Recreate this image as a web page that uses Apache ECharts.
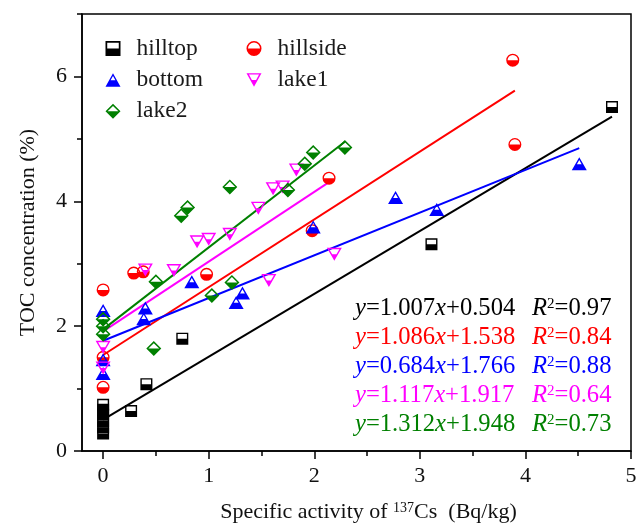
<!DOCTYPE html>
<html><head><meta charset="utf-8">
<script src="https://cdn.jsdelivr.net/npm/echarts@6/dist/echarts.min.js"></script>
<style>html,body{margin:0;padding:0;background:#fff}#c{width:640px;height:528px}</style>
</head><body><div id="c"></div>
<script>
// ---- data ----
const seriesNames = ['hilltop', 'hillside', 'bottom', 'lake1', 'lake2'];
const seriesColors = ['#000000', '#ff0000', '#0000ff', '#ff00ff', '#008000'];

const hilltopX = [0, 0, 0, 0, 0, 0, 0.265, 0.41, 0.75, 3.11, 4.82];
const hilltopY = [0.28, 0.38, 0.48, 0.58, 0.66, 0.74, 0.64, 1.07, 1.80, 3.31, 5.51];

const hillsideX = [0, 0, 0, 0.29, 0.38, 0.98, 1.98, 2.14, 3.88, 3.90];
const hillsideY = [2.58, 1.50, 1.02, 2.85, 2.87, 2.83, 3.53, 4.37, 6.26, 4.91];

const bottomX = [0, 0, 0, 0.40, 0.385, 0.84, 1.26, 1.32, 1.99, 2.77, 3.16, 4.51];
const bottomY = [2.25, 1.46, 1.24, 2.29, 2.12, 2.71, 2.38, 2.53, 3.59, 4.06, 3.87, 4.60];

const lake1X = [0, 0, 0.40, 0.67, 0.89, 1.00, 1.20, 1.47, 1.57, 1.61, 1.70, 1.83, 2.19];
const lake1Y = [1.66, 1.33, 2.90, 2.89, 3.35, 3.39, 3.47, 3.89, 2.73, 4.20, 4.23, 4.50, 3.15];

const lake2X = [0, 0, 0, 0.48, 0.50, 0.74, 0.80, 1.03, 1.20, 1.22, 1.75, 1.91, 1.99, 2.29];
const lake2Y = [2.11, 2.00, 1.87, 1.64, 2.71, 3.77, 3.90, 2.49, 4.23, 2.70, 4.18, 4.60, 4.78, 4.86];

// regression lines (slope, intercept as printed) and their x extents
const fitSlope = [1.007, 1.086, 0.684, 1.117, 1.312];
const fitIntercept = [0.504, 1.538, 1.766, 1.917, 1.948];
const fitR2 = ['0.97', '0.84', '0.88', '0.64', '0.73'];
const fitXStart = [0, 0, 0, 0, 0];
const fitXEnd = [4.82, 3.90, 4.51, 2.14, 2.29];

const xTicks = [0, 1, 2, 3, 4, 5];
const xMinorTicks = [0.5, 1.5, 2.5, 3.5, 4.5];
const yTicks = [0, 2, 4, 6];
const yMinorTicks = [1, 3, 5, 7];

// ---- rendering ----
const FONT = '"Liberation Serif", "Times New Roman", serif';
const xs = [hilltopX, hillsideX, bottomX, lake1X, lake2X];
const ys = [hilltopY, hillsideY, bottomY, lake1Y, lake2Y];

const symbols = [
  'path://M0 0H20V20H0Z M2.3 2.3V10H17.7V2.3Z',
  'path://M0 10A10 10 0 1 1 20 10A10 10 0 1 1 0 10Z M2 10H18A8 8 0 0 0 2 10Z',
  'path://M10 0L20 18H0Z M10 3.7L6.8 9.5H13.2Z',
  'path://M0 0H20L10 18Z M3.3 1.8L7.2 9H12.8L16.7 1.8Z',
  'path://M10 0L20 10L10 20L0 10Z M10 2.8L2.8 10H17.2Z'
];
const symSizes = [[12, 12], [13, 13], [15, 13], [15, 13], [15, 15]];

const series = [];
seriesNames.forEach((n, i) => {
  series.push({
    name: n, type: 'scatter', symbol: symbols[i], symbolSize: symSizes[i],
    itemStyle: { color: seriesColors[i], opacity: 1 },
    data: xs[i].map((x, k) => [x, ys[i][k]]), z: 3
  });
});
seriesNames.forEach((n, i) => {
  series.push({
    name: n + ' fit', type: 'line', showSymbol: false, symbol: 'none', silent: true,
    lineStyle: { color: seriesColors[i], width: 2 }, z: 2,
    data: [fitXStart[i], fitXEnd[i]].map(x => [x, fitSlope[i] * x + fitIntercept[i]])
  });
});

const eqLeft = 355, r2Left = 532, rowTop = 309, rowStep = 29;
const tok = (sz, it) => ({ fontFamily: FONT, fontSize: sz, fontStyle: it ? 'italic' : 'normal' });
const graphics = [];
seriesNames.forEach((n, i) => {
  const y = rowTop + rowStep * i;
  graphics.push({
    type: 'text', x: eqLeft, y: y, z: 10,
    style: {
      text: '{i|y}{n|=' + fitSlope[i].toFixed(3) + '}{i|x}{n|+' + fitIntercept[i].toFixed(3) + '}',
      fill: seriesColors[i], fontFamily: FONT, fontSize: 24.6, verticalAlign: 'middle',
      rich: { i: tok(24.6, true), n: tok(24.6, false) }
    }
  });
  graphics.push({
    type: 'text', x: r2Left, y: y, z: 10,
    style: {
      text: '{i|R}{s|2}{n|=' + fitR2[i] + '}',
      fill: seriesColors[i], fontFamily: FONT, fontSize: 24.6, verticalAlign: 'middle',
      rich: { i: tok(24.6, true), n: tok(24.6, false), s: Object.assign(tok(15, false), { verticalAlign: 'top' }) }
    }
  });
});

const axisLine = { show: true, onZero: false, lineStyle: { color: '#000', width: 1.5 } };
const legendBase = {
  orient: 'vertical', itemWidth: 15, itemHeight: 15, itemGap: 7.4, padding: 0,
  textStyle: { fontFamily: FONT, fontSize: 23.5, color: '#1a1a1a', padding: [0, 0, 0, 11] },
  selectedMode: false
};

const option = {
  animation: false,
  backgroundColor: '#fff',
  grid: { left: 82, right: 9, top: 14, bottom: 73, show: true, borderColor: '#000', borderWidth: 1.5, backgroundColor: 'transparent' },
  legend: [
    Object.assign({}, legendBase, { left: 105.5, top: 36.5, data: ['hilltop', 'bottom', 'lake2'] }),
    Object.assign({}, legendBase, { left: 246.5, top: 36.5, data: ['hillside', 'lake1'] })
  ],
  xAxis: [{
    type: 'value', min: -0.2, max: 5, position: 'bottom',
    axisLine: axisLine,
    axisTick: { show: true, customValues: xTicks, length: 8, lineStyle: { color: '#000', width: 1.5 } },
    axisLabel: { customValues: xTicks, fontFamily: FONT, fontSize: 22, color: '#111', margin: 14 },
    splitLine: { show: false },
    name: 'Specific activity of {sup|137}Cs  (Bq/kg)', nameLocation: 'middle', nameGap: 50,
    nameTextStyle: { fontFamily: FONT, fontSize: 22, color: '#111', padding: [0, 0, 0, 24],
      rich: { sup: { fontFamily: FONT, fontSize: 14, color: '#111', verticalAlign: 'top' } } }
  }, {
    type: 'value', min: -0.2, max: 5, position: 'bottom',
    axisLine: { show: false, onZero: false },
    axisTick: { show: true, customValues: xMinorTicks, length: 5, lineStyle: { color: '#000', width: 1.5 } },
    axisLabel: { show: false }, splitLine: { show: false }
  }],
  yAxis: [{
    type: 'value', min: 0, max: 7, position: 'left',
    axisLine: axisLine,
    axisTick: { show: true, customValues: yTicks, length: 8, lineStyle: { color: '#000', width: 1.5 } },
    axisLabel: { customValues: yTicks, fontFamily: FONT, fontSize: 22, color: '#111', margin: 15 },
    splitLine: { show: false },
    name: 'TOC concentration (%)', nameLocation: 'middle', nameGap: 43,
    nameTextStyle: { fontFamily: FONT, fontSize: 22, color: '#111' }
  }, {
    type: 'value', min: 0, max: 7, position: 'left',
    axisLine: { show: false, onZero: false },
    axisTick: { show: true, customValues: yMinorTicks, length: 5, lineStyle: { color: '#000', width: 1.5 } },
    axisLabel: { show: false }, splitLine: { show: false }
  }],
  series: series,
  graphic: graphics
};
const chart = echarts.init(document.getElementById('c'), null, { renderer: 'canvas' });
chart.setOption(option);
</script></body></html>
